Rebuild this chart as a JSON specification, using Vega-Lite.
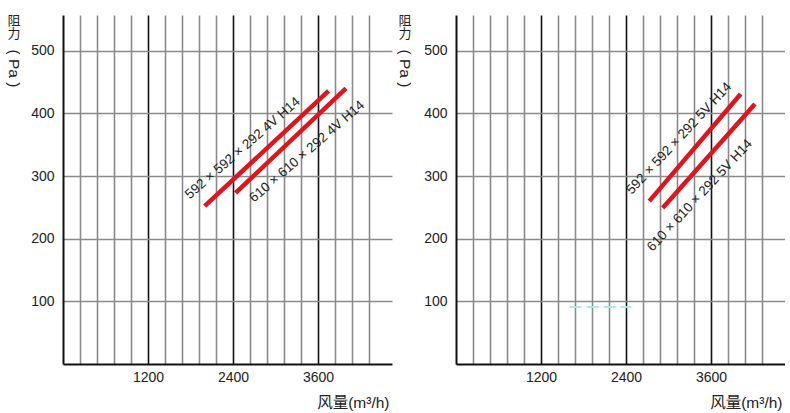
{
  "$schema": "https://vega.github.io/schema/vega-lite/v6.json",
  "background": "white",
  "padding": {"left": 5, "top": 14, "right": 0, "bottom": 0},
  "spacing": 3,
  "config": {
    "view": {"stroke": null},
    "font": "Liberation Sans, Noto Sans CJK SC",
    "axis": {"titleFontWeight": "normal", "titleColor": "#222", "labelColor": "#222", "labelFont": "Liberation Sans", "titleFont": "Liberation Sans, Noto Sans CJK SC"}
  },
  "datasets": {
    "lines": [
      {"panel": "A", "series": "592", "x": 2000, "y": 252},
      {"panel": "A", "series": "592", "x": 3750, "y": 436},
      {"panel": "A", "series": "610", "x": 2437, "y": 273},
      {"panel": "A", "series": "610", "x": 3995, "y": 440},
      {"panel": "B", "series": "592", "x": 2729, "y": 260},
      {"panel": "B", "series": "592", "x": 4019, "y": 431},
      {"panel": "B", "series": "610", "x": 2918, "y": 249},
      {"panel": "B", "series": "610", "x": 4221, "y": 415}
    ],
    "labels": [
      {"panel": "A", "text": "592 × 592 × 292 4V  H14", "x": 2538, "y": 344.5},
      {"panel": "A", "text": "610 × 610 × 292 4V  H14", "x": 3445, "y": 339},
      {"panel": "B", "text": "592 × 592 × 292 5V  H14", "x": 3148, "y": 360},
      {"panel": "B", "text": "610 × 610 × 292 5V  H14", "x": 3442, "y": 269}
    ],
    "marks": [
      {"panel": "B", "x": 1605, "x2": 2475, "y": 91}
    ]
  },
  "hconcat": [
    {
      "width": 329,
      "height": 349,
      "layer": [
        {
          "data": {"name": "lines"},
          "transform": [{"filter": "datum.panel === 'A'"}],
          "mark": {"type": "line", "color": "#e0141c", "strokeWidth": 4.5, "strokeCap": "butt"},
          "encoding": {
            "x": {"field": "x", "type": "quantitative", "scale": {"domain": [0, 4645], "nice": false, "zero": false},
              "axis": {"values": [240, 480, 720, 960, 1200, 1440, 1680, 1920, 2160, 2400, 2640, 2880, 3120, 3360, 3600, 3840, 4080, 4320],
                "tickCount": 40, "format": "d", "labelExpr": "datum.value % 1200 === 0 ? datum.label : ''", "labelOverlap": false,
                "labelFontSize": 14, "labelPadding": 6, "ticks": false, "domainColor": "#111", "domainWidth": 2,
                "gridColor": {"condition": {"test": "datum.value % 1200 === 0", "value": "#111"}, "value": "#8a8a8a"},
                "gridWidth": 1.6, "title": "风量(m³/h)", "titleFontSize": 15.5, "titleAlign": "right", "titleX": 326, "titleY": 38, "titleBaseline": "middle"}},
            "y": {"field": "y", "type": "quantitative", "scale": {"domain": [0, 557], "nice": false},
              "axis": {"orient": "left", "values": [100, 200, 300, 400, 500], "tickCount": 20, "labelFontSize": 14, "labelPadding": 9, "ticks": false,
                "domainColor": "#111", "domainWidth": 2, "gridColor": "#8a8a8a", "gridWidth": 1.6,
                "title": ["阻", "力"], "titleAngle": 0, "titleAlign": "center", "titleBaseline": "top", "titleX": -49.4, "titleY": -1,
                "titleFontSize": 13, "titleLineHeight": 13.5}},
            "detail": {"field": "series"}
          }
        },
        {
          "data": {"name": "labels"},
          "transform": [{"filter": "datum.panel === 'A'"}],
          "mark": {"type": "text", "angle": 319, "fontSize": 13.5, "color": "#222", "align": "center", "baseline": "middle"},
          "encoding": {
            "x": {"field": "x", "type": "quantitative"},
            "y": {"field": "y", "type": "quantitative",
              "axis": {"orient": "left", "labels": false, "ticks": false, "domain": false, "grid": false,
                "title": "( Pa )", "titleFont": "Liberation Sans", "titleAngle": 90, "titleAlign": "center", "titleBaseline": "middle", "titleX": -49.4, "titleY": 53, "titleFontSize": 15.5}},
            "text": {"field": "text"}
          }
        }
      ],
      "resolve": {"axis": {"y": "independent"}}
    },
    {
      "width": 329,
      "height": 349,
      "layer": [
        {
          "data": {"name": "lines"},
          "transform": [{"filter": "datum.panel === 'B'"}],
          "mark": {"type": "line", "color": "#e0141c", "strokeWidth": 4.5, "strokeCap": "butt"},
          "encoding": {
            "x": {"field": "x", "type": "quantitative", "scale": {"domain": [0, 4645], "nice": false, "zero": false},
              "axis": {"values": [240, 480, 720, 960, 1200, 1440, 1680, 1920, 2160, 2400, 2640, 2880, 3120, 3360, 3600, 3840, 4080, 4320],
                "tickCount": 40, "format": "d", "labelExpr": "datum.value % 1200 === 0 ? datum.label : ''", "labelOverlap": false,
                "labelFontSize": 14, "labelPadding": 6, "ticks": false, "domainColor": "#111", "domainWidth": 2,
                "gridColor": {"condition": {"test": "datum.value % 1200 === 0", "value": "#111"}, "value": "#8a8a8a"},
                "gridWidth": 1.6, "title": "风量(m³/h)", "titleFontSize": 15.5, "titleAlign": "right", "titleX": 326, "titleY": 38, "titleBaseline": "middle"}},
            "y": {"field": "y", "type": "quantitative", "scale": {"domain": [0, 557], "nice": false},
              "axis": {"orient": "left", "values": [100, 200, 300, 400, 500], "tickCount": 20, "labelFontSize": 14, "labelPadding": 9, "ticks": false,
                "domainColor": "#111", "domainWidth": 2, "gridColor": "#8a8a8a", "gridWidth": 1.6,
                "title": ["阻", "力"], "titleAngle": 0, "titleAlign": "center", "titleBaseline": "top", "titleX": -51.5, "titleY": -1,
                "titleFontSize": 13, "titleLineHeight": 13.5}},
            "detail": {"field": "series"}
          }
        },
        {
          "data": {"name": "labels"},
          "transform": [{"filter": "datum.panel === 'B'"}],
          "mark": {"type": "text", "angle": 313, "fontSize": 13.5, "color": "#222", "align": "center", "baseline": "middle"},
          "encoding": {
            "x": {"field": "x", "type": "quantitative"},
            "y": {"field": "y", "type": "quantitative",
              "axis": {"orient": "left", "labels": false, "ticks": false, "domain": false, "grid": false,
                "title": "( Pa )", "titleFont": "Liberation Sans", "titleAngle": 90, "titleAlign": "center", "titleBaseline": "middle", "titleX": -51.5, "titleY": 53, "titleFontSize": 15.5}},
            "text": {"field": "text"}
          }
        },
        {
          "data": {"name": "marks"},
          "transform": [{"filter": "datum.panel === 'B'"}],
          "mark": {"type": "rule", "color": "#a8ecf0", "strokeWidth": 2, "strokeDash": [12, 5]},
          "encoding": {
            "x": {"field": "x", "type": "quantitative"},
            "x2": {"field": "x2"},
            "y": {"field": "y", "type": "quantitative", "axis": null}
          }
        }
      ],
      "resolve": {"axis": {"y": "independent"}}
    }
  ]
}
